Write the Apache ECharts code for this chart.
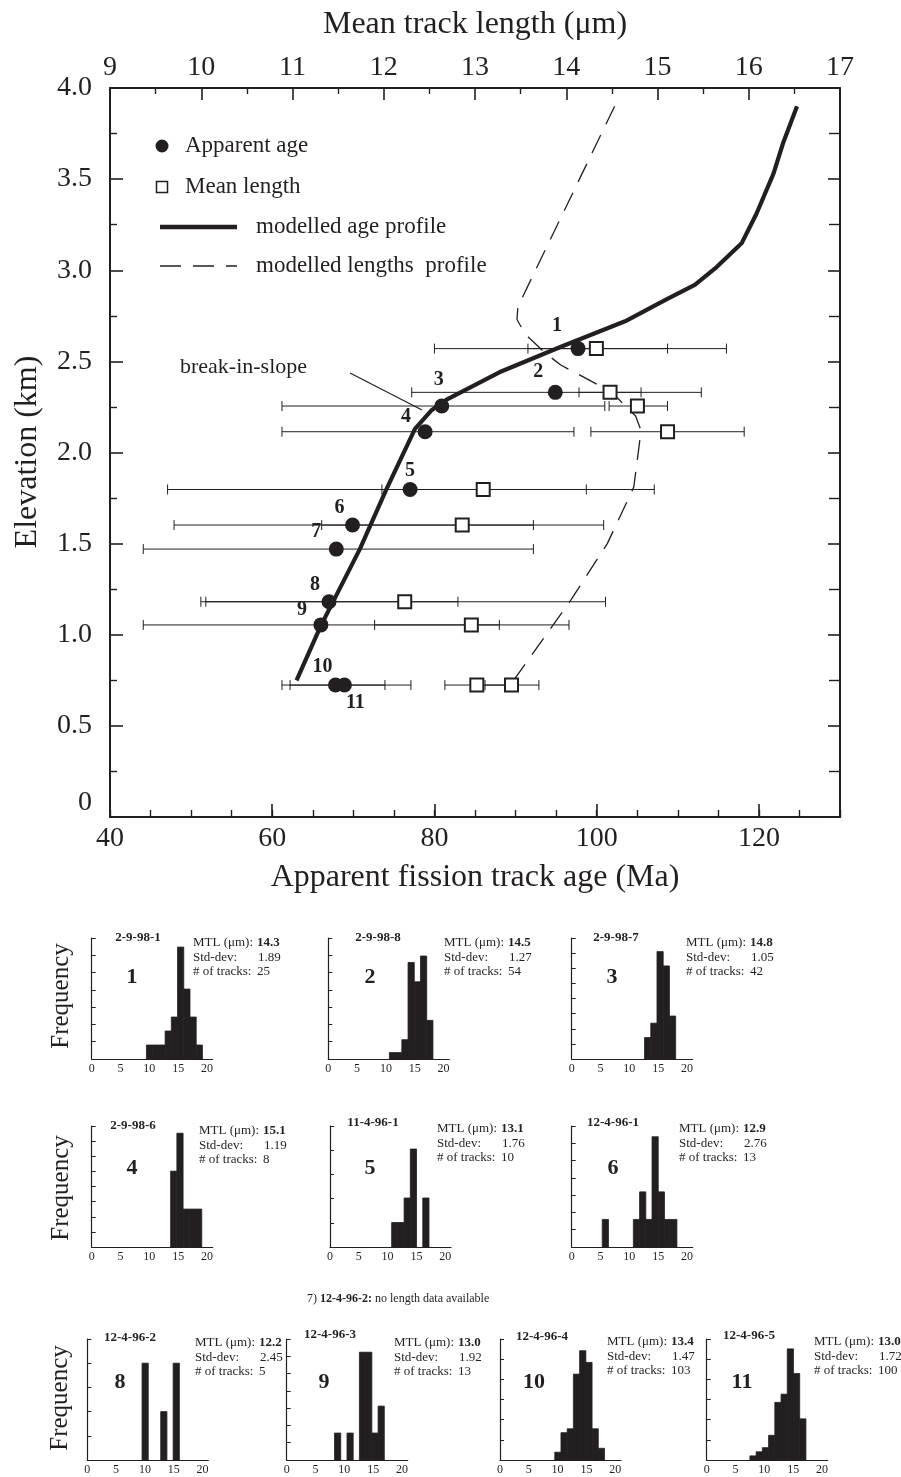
<!DOCTYPE html>
<html><head><meta charset="utf-8">
<script src="https://cdn.jsdelivr.net/npm/echarts@6/dist/echarts.min.js"></script>
<style>html,body{margin:0;padding:0;background:#fff}#c{width:901px;height:1477px}</style>
</head><body><div id="c"></div>
<script>
// ---------------- DATA ----------------
const sampleIds = ['1','2','3','4','5','6','7','8','9','10','11'];
const elevation = [2.57,2.33,2.255,2.114,1.797,1.602,1.47,1.181,1.054,0.724,0.724];
const apparentAge = [97.7,94.9,80.9,78.85,77.0,69.9,67.9,67.0,66.0,67.8,68.9];
const ageErrLow  = [80.0,77.2,61.2,61.2,47.1,47.9,44.1,51.2,44.1,61.2,62.2];
const ageErrHigh = [116.0,112.9,101.0,97.2,107.1,92.2,92.2,82.9,88.0,73.9,77.1];
const meanLength = [14.33,14.48,14.78,15.11,13.09,12.86,null,12.23,12.96,13.40,13.02];
const lenErrLow  = [13.58,14.14,14.47,14.27,11.98,11.32,null,10.05,11.90,13.11,12.67];
const lenErrHigh = [15.11,14.82,15.11,15.95,14.22,14.41,null,14.43,14.03,13.70,13.37];

const modelAgeAge  = [63.0,66.0,70.8,74.1,77.6,79.6,81.5,88.0,95.6,103.5,108.6,112.1,114.6,117.9,119.7,121.8,123.0,124.7];
const modelAgeElev = [0.75,1.05,1.47,1.80,2.13,2.23,2.29,2.44,2.58,2.72,2.84,2.92,3.01,3.15,3.31,3.53,3.70,3.90];
const modelLenLength = [14.53,13.47,13.46,13.55,13.77,13.94,14.49,14.76,14.82,14.74,14.45,14.05,13.40];
const modelLenElev   = [3.90,2.80,2.73,2.65,2.545,2.48,2.334,2.20,2.12,1.81,1.50,1.19,0.733];

const histNames   = ['2-9-98-1','2-9-98-8','2-9-98-7','2-9-98-6','11-4-96-1','12-4-96-1','12-4-96-2','12-4-96-3','12-4-96-4','12-4-96-5'];
const histNumbers = ['1','2','3','4','5','6','8','9','10','11'];
const histMTL = ['14.3','14.5','14.8','15.1','13.1','12.9','12.2','13.0','13.4','13.0'];
const histStd = ['1.89','1.27','1.05','1.19','1.76','2.76','2.45','1.92','1.47','1.72'];
const histN   = ['25','54','42','8','10','13','5','13','103','100'];
const histBinStart = [9.5,10.6,12.64,13.7,10.7,5.3,9.5,8.3,9.5,7.5];
const binWidth = 1.08;
const histCounts = [
  [1,1,1,2,3,8,5,3,1],
  [1,1,3,15,12,16,6],
  [3,5,15,13,6],
  [2,3,1,1,1],
  [1,1,2,4,0,2],
  [1,0,0,0,0,1,2,1,4,2,1,1],
  [2,0,0,1,0,2],
  [1,0,1,0,4,4,1,2],
  [2,7,8,22,28,25,8,3],
  [1,2,3,6,14,16,27,21,10]
];
const histYMax    = [8.65,18.8,16.9,3.19,4.94,4.39,2.5,4.49,31,29.4];
const histYSplits = [7,7,8,8,5,7,5,7,6,6];
const histXTicks  = [0,5,10,15,20];

// ---------------- LAYOUT / STYLE ----------------
const INK = '#231f20';
const FONT = '"Liberation Serif","Times New Roman",serif';
const MAIN = {left:110, top:88, width:730, height:729};
const numberOffsets = [[-21,-23],[-17,-21],[-3,-26],[-19,-15],[0,-19],[-13,-17],[-20,-17],[-14,-17],[-19,-15],[-13,-18],[11,18]];
const histBoxes = [[91.7,938],[328.3,938],[571.7,938],[91.7,1126],[330,1126],[571.7,1126],[87.3,1339],[286.7,1339],[500,1339],[706.7,1339]];
const HIST_W = 121, HIST_H = 121;
const histNamePos  = [[138,938],[378,938],[616,938],[133,1126],[373,1123],[613,1123],[130,1338],[330,1335],[542,1337],[749,1336]];
const histNumPos   = [[132,977],[370,977],[612,977],[132,1168],[370,1168],[613,1168],[120,1382],[324,1382],[534,1382],[742,1382]];
const histStatsPos = [[193,943],[444,943],[686,943],[199,1131],[437,1129],[679,1129],[195,1343],[394,1343],[607,1342],[814,1342]];
const freqPos = [[61,996],[61,1188],[60,1398]];

// ---------------- BUILD ----------------
const chart = echarts.init(document.getElementById('c'));

function errRender(params, api){
  const y = api.value(2);
  const a = api.coord([api.value(0), y]);
  const b = api.coord([api.value(1), y]);
  const h = 5;
  const st = {stroke: INK, lineWidth: 1};
  return {type:'group', children:[
    {type:'line', shape:{x1:a[0],y1:a[1],x2:b[0],y2:b[1]}, style:st},
    {type:'line', shape:{x1:a[0],y1:a[1]-h,x2:a[0],y2:a[1]+h}, style:st},
    {type:'line', shape:{x1:b[0],y1:b[1]-h,x2:b[0],y2:b[1]+h}, style:st}
  ]};
}
function histRender(params, api){
  const c = api.value(2);
  if (!c) return null;
  const p0 = api.coord([api.value(0), c]);
  const p1 = api.coord([api.value(1), 0]);
  return {type:'rect', shape:{x:p0[0], y:p0[1], width:p1[0]-p0[0], height:p1[1]-p0[1]},
    style:{fill:INK, stroke:INK, lineWidth:0.8}};
}

const grids = [MAIN];
const xAxes = [
  {gridIndex:0, type:'value', position:'bottom', min:40, max:130, interval:20,
   axisLine:{onZero:false, lineStyle:{color:INK, width:2}},
   axisTick:{inside:true, length:13, lineStyle:{color:INK, width:1.6}},
   axisLabel:{fontSize:28, fontFamily:FONT, color:INK, margin:8, showMaxLabel:false},
   splitLine:{show:false}},
  {gridIndex:0, type:'value', position:'top', min:9, max:17, interval:1,
   axisLine:{onZero:false, lineStyle:{color:INK, width:2}},
   axisTick:{inside:true, length:12, lineStyle:{color:INK, width:1.6}},
   minorTick:{show:true, splitNumber:2, length:6, lineStyle:{color:INK, width:1.4}},
   axisLabel:{fontSize:28, fontFamily:FONT, color:INK, margin:6},
   splitLine:{show:false}},
  {gridIndex:0, type:'value', position:'bottom', min:40, max:130, interval:5,
   axisLine:{show:false, onZero:false},
   axisTick:{inside:true, length:7, lineStyle:{color:INK, width:1.4}},
   axisLabel:{show:false}, splitLine:{show:false}}
];
const yAxes = [
  {gridIndex:0, type:'value', position:'left', min:0, max:4, interval:0.5,
   axisLine:{onZero:false, lineStyle:{color:INK, width:2}},
   axisTick:{inside:true, length:13, lineStyle:{color:INK, width:1.6}},
   minorTick:{show:true, splitNumber:2, length:7, lineStyle:{color:INK, width:1.4}},
   axisLabel:{fontSize:28, fontFamily:FONT, color:INK, margin:18,
     formatter: v => v === 0 ? '{z|0}' : v.toFixed(1),
     rich:{z:{fontSize:28, fontFamily:FONT, color:INK, padding:[0,0,28,0]}}},
   splitLine:{show:false}},
  {gridIndex:0, type:'value', position:'right', min:0, max:4, interval:0.5,
   axisLine:{onZero:false, lineStyle:{color:INK, width:2}},
   axisTick:{inside:true, length:12, lineStyle:{color:INK, width:1.6}},
   minorTick:{show:true, splitNumber:2, length:11, lineStyle:{color:INK, width:1.4}},
   axisLabel:{show:false}, splitLine:{show:false}}
];

const series = [
  {type:'custom', name:'ageErr', coordinateSystem:'cartesian2d', xAxisIndex:0, yAxisIndex:0, z:2, silent:true,
   renderItem: errRender, encode:{x:[0,1], y:2},
   data: apparentAge.map((a,i)=>[ageErrLow[i], ageErrHigh[i], elevation[i]])},
  {type:'custom', name:'lenErr', coordinateSystem:'cartesian2d', xAxisIndex:1, yAxisIndex:0, z:2, silent:true,
   renderItem: errRender, encode:{x:[0,1], y:2},
   data: meanLength.map((m,i)=>[lenErrLow[i], lenErrHigh[i], elevation[i]]).filter(d=>d[0]!=null)},
  {type:'line', name:'modelled age profile', xAxisIndex:0, yAxisIndex:0, z:3, symbol:'none',
   lineStyle:{color:INK, width:4.2}, data: modelAgeAge.map((a,i)=>[a, modelAgeElev[i]])},
  {type:'line', name:'modelled lengths profile', xAxisIndex:1, yAxisIndex:0, z:3, symbol:'none',
   lineStyle:{color:INK, width:1.3, type:[20,12]}, data: modelLenLength.map((l,i)=>[l, modelLenElev[i]])},
  {type:'scatter', name:'Mean length', xAxisIndex:1, yAxisIndex:0, z:4, symbol:'rect', symbolSize:13,
   itemStyle:{color:'#fff', borderColor:INK, borderWidth:2, opacity:1},
   data: meanLength.map((m,i)=>[m, elevation[i]]).filter(d=>d[0]!=null)},
  {type:'scatter', name:'Apparent age', xAxisIndex:0, yAxisIndex:0, z:5, symbol:'circle', symbolSize:15,
   itemStyle:{color:INK, opacity:1},
   label:{show:true, position:'inside', color:INK, fontSize:20, fontWeight:'bold', fontFamily:FONT, textBorderWidth:0},
   data: apparentAge.map((a,i)=>({value:[a, elevation[i]], label:{formatter: sampleIds[i], offset: numberOffsets[i]}}))}
];

const graphic = [];
function txt(x,y,text,size,opts){
  opts = opts || {};
  graphic.push({type:'text', x:x, y:y, rotation: opts.rotation || 0, silent:true,
    style:{text:text, fontSize:size, fontFamily:FONT, fontWeight: opts.bold ? 'bold' : 'normal',
      fill:INK, textAlign: opts.align || 'center', textVerticalAlign:'middle', rich: opts.rich}});
}

// histograms
const X0 = xAxes.length, Y0 = yAxes.length, G0 = grids.length;
histCounts.forEach((counts, k) => {
  const gi = G0 + k, xi = X0 + k, yi = Y0 + k;
  grids.push({left:histBoxes[k][0], top:histBoxes[k][1], width:HIST_W, height:HIST_H});
  xAxes.push({gridIndex:gi, type:'value', min:0, max:21, interval:5,
    axisLine:{onZero:false, lineStyle:{color:INK, width:1.2}},
    axisTick:{show:false},
    axisLabel:{fontSize:12, fontFamily:FONT, color:INK, margin:4, showMaxLabel:false,
      formatter: v => histXTicks.indexOf(v) >= 0 ? String(v) : ''},
    splitLine:{show:false}});
  yAxes.push({gridIndex:gi, type:'value', min:0, max:histYMax[k], interval:histYMax[k]/histYSplits[k],
    axisLine:{onZero:false, lineStyle:{color:INK, width:1.2}},
    axisTick:{inside:true, length:4, lineStyle:{color:INK, width:1}},
    axisLabel:{show:false}, splitLine:{show:false}});
  series.push({type:'custom', name:'hist '+histNames[k], coordinateSystem:'cartesian2d', xAxisIndex:xi, yAxisIndex:yi, silent:true,
    renderItem: histRender, encode:{x:[0,1], y:2},
    data: counts.map((c,i)=>[histBinStart[k]+i*binWidth, histBinStart[k]+(i+1)*binWidth, c])});
  txt(histNamePos[k][0], histNamePos[k][1], histNames[k], 13, {bold:true});
  txt(histNumPos[k][0], histNumPos[k][1], histNumbers[k], 22, {bold:true});
  const sx = histStatsPos[k][0], sy = histStatsPos[k][1];
  txt(sx, sy, 'MTL (μm):', 13, {align:'left'});
  txt(sx+64, sy, histMTL[k], 13, {align:'left', bold:true});
  txt(sx, sy+14.5, 'Std-dev:', 13, {align:'left'});
  txt(sx+65, sy+14.5, histStd[k], 13, {align:'left'});
  txt(sx, sy+29, '# of tracks:', 13, {align:'left'});
  txt(sx+64, sy+29, histN[k], 13, {align:'left'});
});
freqPos.forEach(p => txt(p[0], p[1], 'Frequency', 25, {rotation:Math.PI/2}));
graphic.push({type:'text', x:307, y:1299, silent:true,
  style:{text:'7) {b|12-4-96-2:} no length data available', fontSize:12, fontFamily:FONT, fill:INK,
    textAlign:'left', textVerticalAlign:'middle',
    rich:{b:{fontSize:12, fontFamily:FONT, fontWeight:'bold', fill:INK}}}});

// main titles
txt(475, 25, 'Mean track length (μm)', 32);
txt(475, 878, 'Apparent fission track age (Ma)', 32);
txt(28, 452, 'Elevation (km)', 32, {rotation:Math.PI/2});
// annotation
txt(180, 367, 'break-in-slope', 22, {align:'left'});
graphic.push({type:'line', silent:true, shape:{x1:350,y1:373,x2:422,y2:410}, style:{stroke:INK, lineWidth:1.2}});
// legend
graphic.push({type:'circle', silent:true, shape:{cx:162, cy:146, r:6.5}, style:{fill:INK}});
graphic.push({type:'rect', silent:true, shape:{x:156.5, y:181.5, width:11, height:11}, style:{fill:'#fff', stroke:INK, lineWidth:1.5}});
graphic.push({type:'line', silent:true, shape:{x1:160, y1:227, x2:237, y2:227}, style:{stroke:INK, lineWidth:4.5}});
graphic.push({type:'line', silent:true, shape:{x1:160, y1:266, x2:237, y2:266}, style:{stroke:INK, lineWidth:1.3, lineDash:[21,12]}});
txt(185, 146, 'Apparent age', 23, {align:'left'});
txt(185, 187, 'Mean length', 23, {align:'left'});
txt(256, 227, 'modelled age profile', 23, {align:'left'});
txt(256, 266, 'modelled lengths  profile', 23, {align:'left'});

chart.setOption({
  animation:false,
  backgroundColor:'#fff',
  grid: grids,
  xAxis: xAxes,
  yAxis: yAxes,
  series: series,
  graphic: graphic
});
</script></body></html>
